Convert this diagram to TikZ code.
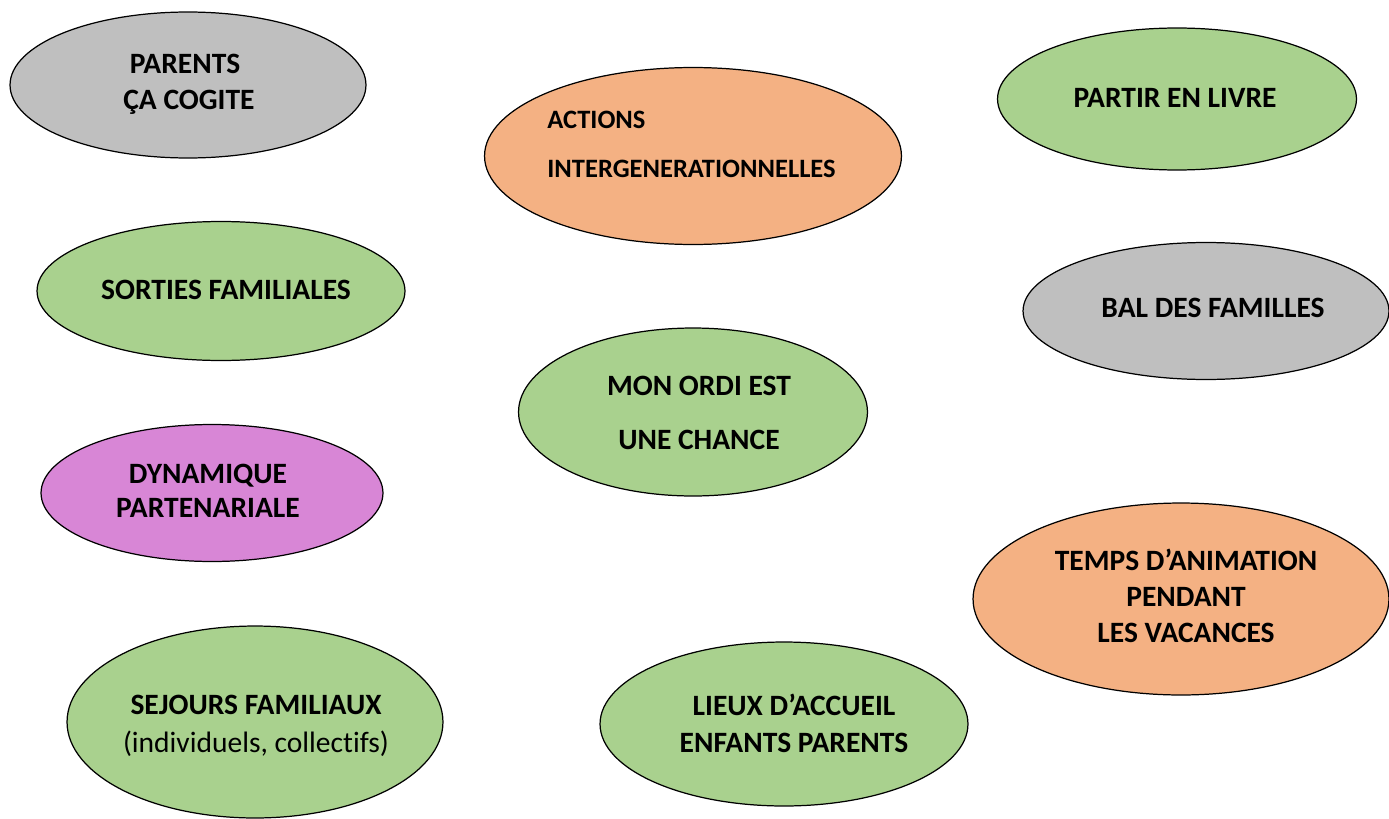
\documentclass[tikz,border=0pt]{standalone}
\usepackage{fontspec}
\setmainfont[Ligatures=NoCommon]{Carlito}
\usetikzlibrary{shapes.geometric}
\definecolor{cgray}{HTML}{BFBFBF}
\definecolor{corange}{HTML}{F4B183}
\definecolor{cgreen}{HTML}{A9D18E}
\definecolor{cpurple}{HTML}{D886D6}
\tikzset{
  ell/.style={ellipse, draw=black, line width=0.7pt, inner sep=0pt},
  lbl/.style={anchor=base, font=\fontsize{16.8}{20}\selectfont\bfseries, inner sep=0pt},
  lblreg/.style={anchor=base, font=\fontsize{16.8}{20}\selectfont, inner sep=0pt},
  lblleft/.style={anchor=base west, font=\fontsize{15.1}{18}\selectfont\bfseries, inner sep=0pt}
}
\begin{document}
\begin{tikzpicture}[x=0.02cm,y=-0.02cm]
\useasboundingbox (0,0) rectangle (1389,818);
% ellipses
\node[ell, fill=cgray, minimum width=7.12cm, minimum height=2.92cm] (e1) at (188,85) {};
\node[ell, fill=corange, minimum width=8.34cm, minimum height=3.54cm] (e2) at (693,156) {};
\node[ell, fill=cgreen, minimum width=7.18cm, minimum height=2.84cm] (e3) at (1177,99) {};
\node[ell, fill=cgreen, minimum width=7.36cm, minimum height=2.78cm] (e4) at (221,291) {};
\node[ell, fill=cgray, minimum width=7.32cm, minimum height=2.74cm] (e5) at (1206,311) {};
\node[ell, fill=cgreen, minimum width=6.98cm, minimum height=3.36cm] (e6) at (693,412) {};
\node[ell, fill=cpurple, minimum width=6.84cm, minimum height=2.74cm] (e7) at (212,493) {};
\node[ell, fill=corange, minimum width=8.32cm, minimum height=3.84cm] (e8) at (1181,599) {};
\node[ell, fill=cgreen, minimum width=7.52cm, minimum height=3.84cm] (e9) at (255,722) {};
\node[ell, fill=cgreen, minimum width=7.36cm, minimum height=3.28cm] (e10) at (784,724) {};
% labels
\node[lbl] (t1a) at (185,73) {PARENTS};
\node[lbl] (t1b) at (189,109) {ÇA COGITE};
\node[lblleft] (t2a) at (547,128) {ACTIONS};
\node[lblleft] (t2b) at (547,177) {INTERGENERATIONNELLES};
\node[lbl] (t3) at (1175,107) {PARTIR EN LIVRE};
\node[lbl] (t4) at (226,299) {SORTIES FAMILIALES};
\node[lbl] (t5) at (1213,317) {BAL DES FAMILLES};
\node[lbl] (t6a) at (699,395) {MON ORDI EST};
\node[lbl] (t6b) at (699,449) {UNE CHANCE};
\node[lbl] (t7a) at (208,483) {DYNAMIQUE};
\node[lbl] (t7b) at (208,517) {PARTENARIALE};
\node[lbl] (t8a) at (1186,570) {TEMPS D’ANIMATION};
\node[lbl] (t8b) at (1186,606) {PENDANT};
\node[lbl] (t8c) at (1186,642) {LES VACANCES};
\node[lbl] (t9a) at (256,714) {SEJOURS FAMILIAUX};
\node[lblreg] (t9b) at (256,752) {(individuels, collectifs)};
\node[lbl] (t10a) at (794,715) {LIEUX D’ACCUEIL};
\node[lbl] (t10b) at (794,752) {ENFANTS PARENTS};
\end{tikzpicture}
\end{document}
